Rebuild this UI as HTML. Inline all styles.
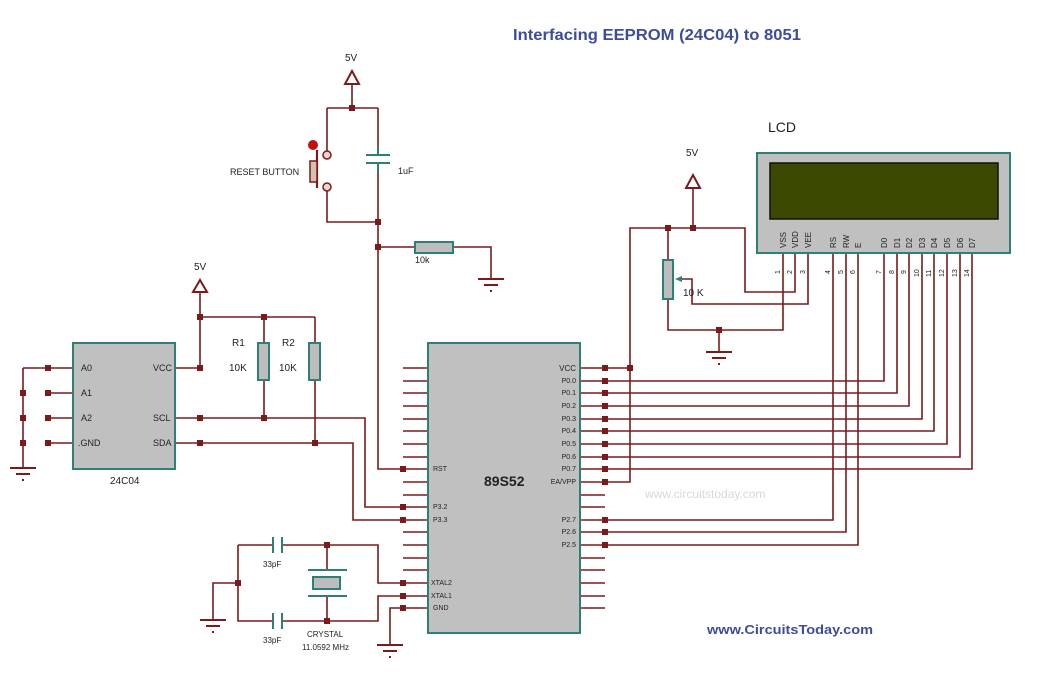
<!DOCTYPE html>
<html><head><meta charset="utf-8"><style>
html,body{margin:0;padding:0;background:#fff;}
svg{display:block;font-family:"Liberation Sans",Arial,sans-serif;}
</style></head><body>
<svg width="1054" height="682" viewBox="0 0 1054 682" xmlns="http://www.w3.org/2000/svg">
<rect width="1054" height="682" fill="#fff"/>
<text x="513" y="40" font-size="16" font-weight="bold" fill="#3d4d9a" textLength="288" lengthAdjust="spacingAndGlyphs">Interfacing EEPROM (24C04) to 8051</text>
<text x="707" y="634" font-size="13" font-weight="bold" fill="#3d4d9a" textLength="166" lengthAdjust="spacingAndGlyphs">www.CircuitsToday.com</text>
<text x="645" y="498" font-size="12" fill="#d8d8d8">www.circuitstoday.com</text>

<g stroke="#7a1a1a" stroke-width="1.6" fill="none">
<!-- reset section -->
<path d="M352 84 V108 M327 108 H378 M327 108 V151 M327 191 V222 H378 M378 108 V147 M378 172 V469 H403 M378 247 H415 M453 247 H491 V279"/>
<path d="M345 84 H359 L352 71 Z" stroke-width="2"/>
<path d="M317 150 V188" stroke-width="2.2"/>
<!-- 24C04 -->
<path d="M48 368 H73 M48 393 H73 M48 418 H73 M48 443 H73 M23 368 H48 M23 368 V468"/>
<path d="M175 368 H200 M175 418 H200 M175 443 H200"/>
<path d="M200 292 V368 M200 317 H315 M264 317 V343 M315 317 V343 M264 380 V418 M315 380 V443"/>
<path d="M193 292 H207 L200 280 Z" stroke-width="2"/>
<path d="M200 418 H365 V507 H403 M200 443 H353 V520 H403"/>
<!-- crystal -->
<path d="M238 545 H273 M282 545 H378 V583 H403 M238 545 V621 H273 M282 621 H378 V596 H403 M238 583 H213 V620 M327 545 V570 M327 596 V621"/>
<path d="M403 608 H390 V645"/>
<!-- chip pins -->
<path d="M403 368H428M403 381H428M403 393H428M403 406H428M403 419H428M403 431H428M403 444H428M403 457H428M403 469H428M403 482H428M403 495H428M403 507H428M403 520H428M403 532H428M403 545H428M403 558H428M403 570H428M403 583H428M403 596H428M403 608H428"/>
<path d="M580 368H605M580 381H605M580 393H605M580 406H605M580 419H605M580 431H605M580 444H605M580 457H605M580 469H605M580 482H605M580 495H605M580 507H605M580 520H605M580 532H605M580 545H605M580 558H605M580 570H605M580 583H605M580 596H605M580 608H605"/>
<!-- VCC / EA -->
<path d="M605 368 H630 M605 482 H630 V228 H745 V292 H795 V253"/>
<path d="M693 188 V228 M668 228 V260 M668 299 V330 H783 V253 M719 330 V352"/>
<path d="M686 188 H700 L693 175 Z" stroke-width="2"/>
<path d="M692 279 H680 M685 279 H692 V304 H808 V253"/>
<!-- data lines -->
<path d="M605 381 H884 V253 M605 393 H897 V253 M605 406 H909 V253 M605 419 H922 V253 M605 431 H934 V253 M605 444 H947 V253 M605 457 H960 V253 M605 469 H972 V253"/>
<path d="M605 520 H833 V253 M605 532 H846 V253 M605 545 H858 V253"/>
</g>
<!-- grounds -->
<g stroke="#7a1a1a" stroke-width="2">
<path d="M10 468 H36 M16 474 H30 M22 480 H24"/>
<path d="M478 279 H504 M484 285 H498 M490 291 H492"/>
<path d="M706 352 H732 M712 358 H726 M718 364 H720"/>
<path d="M200 620 H226 M206 626 H220 M212 632 H214"/>
<path d="M377 645 H403 M383 651 H397 M389 657 H391"/>
</g>
<!-- dots -->
<g fill="#7a1a1a">
<rect x="349" y="105" width="6" height="6"/><rect x="375" y="219" width="6" height="6"/><rect x="375" y="244" width="6" height="6"/>
<rect x="45" y="365" width="6" height="6"/><rect x="45" y="390" width="6" height="6"/><rect x="45" y="415" width="6" height="6"/><rect x="45" y="440" width="6" height="6"/>
<rect x="20" y="390" width="6" height="6"/><rect x="20" y="415" width="6" height="6"/><rect x="20" y="440" width="6" height="6"/>
<rect x="197" y="365" width="6" height="6"/><rect x="197" y="415" width="6" height="6"/><rect x="197" y="440" width="6" height="6"/>
<rect x="197" y="314" width="6" height="6"/><rect x="261" y="314" width="6" height="6"/><rect x="261" y="415" width="6" height="6"/><rect x="312" y="440" width="6" height="6"/>
<rect x="324" y="542" width="6" height="6"/><rect x="324" y="618" width="6" height="6"/><rect x="235" y="580" width="6" height="6"/>
<rect x="400" y="466" width="6" height="6"/><rect x="400" y="504" width="6" height="6"/><rect x="400" y="517" width="6" height="6"/><rect x="400" y="580" width="6" height="6"/><rect x="400" y="593" width="6" height="6"/><rect x="400" y="605" width="6" height="6"/>
<rect x="602" y="365" width="6" height="6"/><rect x="602" y="378" width="6" height="6"/><rect x="602" y="390" width="6" height="6"/><rect x="602" y="403" width="6" height="6"/><rect x="602" y="416" width="6" height="6"/><rect x="602" y="428" width="6" height="6"/><rect x="602" y="441" width="6" height="6"/><rect x="602" y="454" width="6" height="6"/><rect x="602" y="466" width="6" height="6"/><rect x="602" y="479" width="6" height="6"/><rect x="602" y="517" width="6" height="6"/><rect x="602" y="529" width="6" height="6"/><rect x="602" y="542" width="6" height="6"/>
<rect x="627" y="365" width="6" height="6"/><rect x="665" y="225" width="6" height="6"/><rect x="690" y="225" width="6" height="6"/><rect x="716" y="327" width="6" height="6"/>
</g>
<!-- button parts -->
<rect x="310" y="161" width="7" height="21" fill="#d8c0b0" stroke="#7a1a1a" stroke-width="1.5"/>
<circle cx="327" cy="155" r="4" fill="#f0d8d0" stroke="#7a1a1a" stroke-width="1.5"/>
<circle cx="327" cy="187" r="4" fill="#f0d8d0" stroke="#7a1a1a" stroke-width="1.5"/>
<circle cx="313" cy="145" r="5" fill="#c01010"/>
<!-- teal parts -->
<g stroke="#2e8077" stroke-width="2" fill="none">
<path d="M378 147 V155 M366 155 H390 M366 163 H390 M378 163 V172"/>
<path d="M273 537 V553 M282 537 V553 M273 613 V629 M282 613 V629"/>
<path d="M308 570 H347 M308 596 H347"/>
</g>
<rect x="313" y="577" width="27" height="12" fill="#bdbdbd" stroke="#2e8077" stroke-width="2"/>
<rect x="415" y="242" width="38" height="11" fill="#bdbdbd" stroke="#2e8077" stroke-width="2"/>
<rect x="258" y="343" width="11" height="37" fill="#bdbdbd" stroke="#2e8077" stroke-width="2"/>
<rect x="309" y="343" width="11" height="37" fill="#bdbdbd" stroke="#2e8077" stroke-width="2"/>
<rect x="663" y="260" width="10" height="39" fill="#bdbdbd" stroke="#2e8077" stroke-width="2"/>
<path d="M675 279 L682 276 V282 Z" fill="#2e8077"/>
<!-- chips -->
<rect x="73" y="343" width="102" height="126" fill="#c0c0c0" stroke="#2e8077" stroke-width="2"/>
<rect x="428" y="343" width="152" height="290" fill="#c0c0c0" stroke="#2e8077" stroke-width="2"/>
<rect x="757" y="153" width="253" height="100" fill="#c0c0c0" stroke="#2e8077" stroke-width="2"/>
<rect x="770" y="163" width="228" height="56" fill="#3b4a00" stroke="#111" stroke-width="1.5"/>

<g font-size="9" fill="#222">
<text x="345" y="61" font-size="10">5V</text>
<text x="194" y="270" font-size="10">5V</text>
<text x="686" y="156" font-size="10">5V</text>
<text x="230" y="175">RESET BUTTON</text>
<text x="398" y="174">1uF</text>
<text x="415" y="263">10k</text>
<text x="232" y="346" font-size="10">R1</text><text x="282" y="346" font-size="10">R2</text>
<text x="229" y="371" font-size="10">10K</text><text x="279" y="371" font-size="10">10K</text>
<text x="81" y="371">A0</text><text x="81" y="396">A1</text><text x="81" y="421">A2</text><text x="78" y="446">.GND</text>
<text x="153" y="371">VCC</text><text x="153" y="421">SCL</text><text x="153" y="446">SDA</text>
<text x="110" y="484" font-size="10">24C04</text>
<text x="263" y="567" font-size="8">33pF</text><text x="263" y="643" font-size="8">33pF</text>
<text x="307" y="637" font-size="8">CRYSTAL</text><text x="302" y="650" font-size="8">11.0592 MHz</text>
<text x="683" y="296" font-size="10">10 K</text>
<text x="768" y="132" font-size="14">LCD</text>
<text x="484" y="486" font-size="14" font-weight="bold">89S52</text>
</g>
<g font-size="7" fill="#222">
<text x="433" y="471">RST</text><text x="433" y="509">P3.2</text><text x="433" y="522">P3.3</text>
<text x="431" y="585">XTAL2</text><text x="431" y="598">XTAL1</text><text x="433" y="610">GND</text>
<text x="576" y="371" text-anchor="end" font-size="8">VCC</text>
<text x="576" y="383" text-anchor="end">P0.0</text><text x="576" y="395" text-anchor="end">P0.1</text><text x="576" y="408" text-anchor="end">P0.2</text><text x="576" y="421" text-anchor="end">P0.3</text><text x="576" y="433" text-anchor="end">P0.4</text><text x="576" y="446" text-anchor="end">P0.5</text><text x="576" y="459" text-anchor="end">P0.6</text><text x="576" y="471" text-anchor="end">P0.7</text><text x="576" y="484" text-anchor="end">EA/VPP</text>
<text x="576" y="522" text-anchor="end">P2.7</text><text x="576" y="534" text-anchor="end">P2.6</text><text x="576" y="547" text-anchor="end">P2.5</text>
</g>
<g font-size="8" fill="#222">
<text transform="translate(786,248) rotate(-90)">VSS</text>
<text transform="translate(798,248) rotate(-90)">VDD</text>
<text transform="translate(811,248) rotate(-90)">VEE</text>
<text transform="translate(836,248) rotate(-90)">RS</text>
<text transform="translate(849,248) rotate(-90)">RW</text>
<text transform="translate(861,248) rotate(-90)">E</text>
<text transform="translate(887,248) rotate(-90)">D0</text>
<text transform="translate(900,248) rotate(-90)">D1</text>
<text transform="translate(912,248) rotate(-90)">D2</text>
<text transform="translate(925,248) rotate(-90)">D3</text>
<text transform="translate(937,248) rotate(-90)">D4</text>
<text transform="translate(950,248) rotate(-90)">D5</text>
<text transform="translate(963,248) rotate(-90)">D6</text>
<text transform="translate(975,248) rotate(-90)">D7</text>
</g>
<g font-size="7" fill="#222">
<text transform="translate(780,274) rotate(-90)">1</text>
<text transform="translate(792,274) rotate(-90)">2</text>
<text transform="translate(805,274) rotate(-90)">3</text>
<text transform="translate(830,274) rotate(-90)">4</text>
<text transform="translate(843,274) rotate(-90)">5</text>
<text transform="translate(855,274) rotate(-90)">6</text>
<text transform="translate(881,274) rotate(-90)">7</text>
<text transform="translate(894,274) rotate(-90)">8</text>
<text transform="translate(906,274) rotate(-90)">9</text>
<text transform="translate(919,277) rotate(-90)">10</text>
<text transform="translate(931,277) rotate(-90)">11</text>
<text transform="translate(944,277) rotate(-90)">12</text>
<text transform="translate(957,277) rotate(-90)">13</text>
<text transform="translate(969,277) rotate(-90)">14</text>
</g>
</svg>
</body></html>
